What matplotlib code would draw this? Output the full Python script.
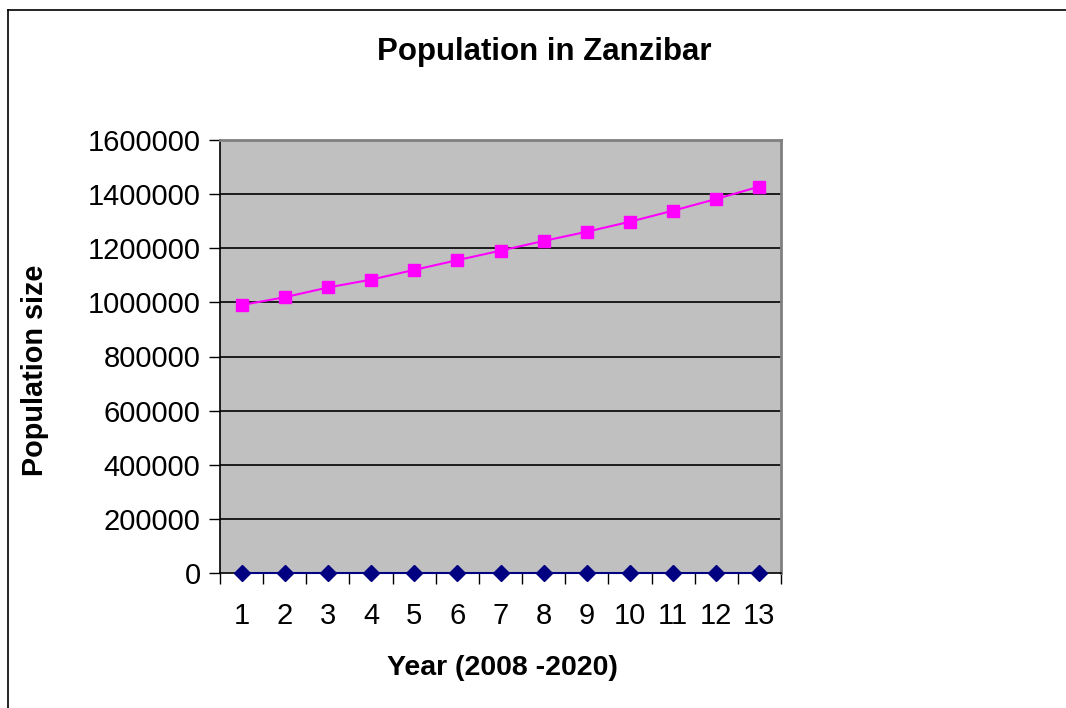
import matplotlib
matplotlib.use("Agg")
import matplotlib.pyplot as plt
from matplotlib.lines import Line2D
import numpy as np

years = list(range(1, 14))
population = [990000, 1019000, 1055000, 1084000, 1120000, 1156000, 1191000,
              1227000, 1261000, 1298000, 1339000, 1382000, 1428000]
second_series = [0] * 13
yticks = [0, 200000, 400000, 600000, 800000, 1000000, 1200000, 1400000, 1600000]

plt.rcParams['font.family'] = ['Liberation Sans', 'DejaVu Sans']

fig = plt.figure(figsize=(10.66, 7.08), dpi=100)
ax = fig.add_axes([220/1066, 1-573/708, 561/1066, 433/708])
ax.set_facecolor('#C0C0C0')

for v in yticks[1:-1]:
    ax.axhline(v, color='black', lw=1.2, zorder=1)

ax.plot(years, second_series, color='#000080', marker='D', markersize=8, lw=1.5, zorder=3, clip_on=False)
ax.plot(years, population, color='#FF00FF', marker='s', markersize=9, lw=1.5, zorder=4, clip_on=False)

ax.set_xlim(0.5, 13.5)
ax.set_ylim(0, 1600000)
ax.set_yticks(yticks)
ax.set_yticklabels([str(v) for v in yticks], fontsize=21)
ax.set_xticks(years)
ax.set_xticklabels([str(y) for y in years], fontsize=21)
ax.tick_params(axis='x', which='major', length=0, pad=21)
ax.set_xticks(np.arange(0.5, 14, 1), minor=True)
ax.tick_params(axis='x', which='minor', length=8, width=1, direction='out', color='black')
ax.tick_params(axis='y', length=8, width=1, direction='out', pad=6)

ax.spines['left'].set_color('black')
ax.spines['left'].set_linewidth(1.2)
ax.spines['bottom'].set_color('black')
ax.spines['bottom'].set_linewidth(1.2)
ax.spines['top'].set_color('#808080')
ax.spines['top'].set_linewidth(2)
ax.spines['right'].set_color('#808080')
ax.spines['right'].set_linewidth(2)

fig.text(544/1066, 1-52/708, 'Population in Zanzibar', fontsize=22.5, fontweight='bold',
         ha='center', va='center')
fig.text(502/1066, 1-668/708, 'Year (2008 -2020)', fontsize=20.5, fontweight='bold',
         ha='center', va='center')
fig.text(35/1066, 1-370/708, 'Population size', fontsize=20.8, fontweight='bold',
         ha='center', va='center', rotation=90)

fig.add_artist(Line2D([8/1066, 8/1066], [0, 1-10/708], transform=fig.transFigure, color='black', lw=1.2))
fig.add_artist(Line2D([8/1066, 1], [1-10/708, 1-10/708], transform=fig.transFigure, color='black', lw=1.2))

fig.savefig('out.png', dpi=100)
